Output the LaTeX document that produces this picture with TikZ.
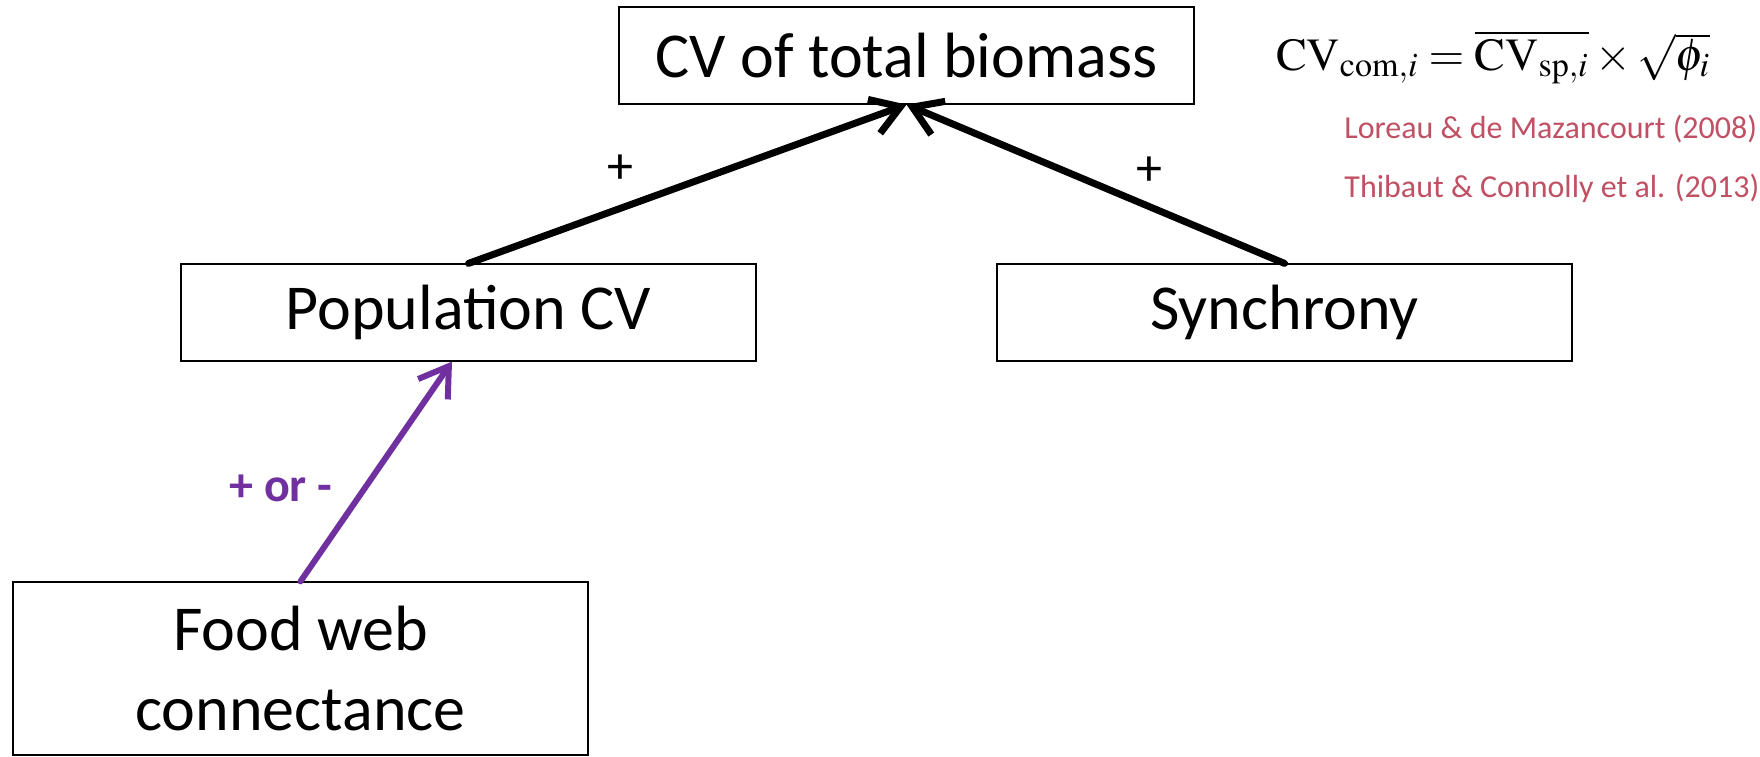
\documentclass[tikz,border=0pt]{standalone}
\usepackage{mathptmx}
\usepackage[no-math]{fontspec}
\setmainfont{Carlito}
\usetikzlibrary{arrows.meta}
\definecolor{linkpurple}{RGB}{112,48,160}
\definecolor{citered}{RGB}{192,80,100}

\begin{document}
\begin{tikzpicture}[x=0.5pt,y=-0.5pt,
        box/.style={draw,line width=0.6pt,inner sep=0pt,minimum width=287.5pt,minimum height=48.5pt,align=center,font=\fontsize{32}{40}\selectfont},
        link/.style={line width=3.5pt,line cap=round,-{Straight Barb[length=14pt,width=18pt]}},
        sign/.style={font=\fontsize{26}{30}\selectfont,inner sep=0pt},
        cite/.style={font=\fontsize{16}{19}\selectfont,text=citered,anchor=west,inner sep=0pt}]
        \useasboundingbox (0,0) rectangle (1760,756);
        % boxes
        \node[box] (total) at (906.5,55.5) {CV of total biomass};
        \node[box] (popcv) at (468.5,312.5) {Population CV};
        \node[box] (sync) at (1284.5,312.5) {Synchrony};
        \node[box,minimum height=86.5pt] (foodweb) at (300.5,668.5) {Food web\\connectance};
        % arrows
        \draw[link] (popcv.north) -- (total.south);
        \draw[link] (sync.north) -- (total.south);
        \draw[link,linkpurple,line width=3pt] (foodweb.north) -- ([xshift=-8.25pt]popcv.south);
        % signs
        \node[sign] (plusl) at (620,169) {+};
        \node[sign] (plusr) at (1149,171) {+};
        \node[sign,font=\bfseries\fontsize{24}{28}\selectfont,text=linkpurple] (plusminus) at (281,488) {+ or -};
        % formula and refs
        \node[anchor=base,font=\fontsize{23}{26}\selectfont,inner sep=0pt] (formula) at (1493,70)
            {$\mathrm{CV}_{\mathrm{com},i}=\overline{\mathrm{CV}_{\mathrm{sp},i}}\times\sqrt{\phi_i}$};
        \node[cite] (loreau) at (1344,129) {Loreau \& de Mazancourt (2008)};
        \node[cite] (thibaut) at (1344,188) {Thibaut \& Connolly et al. (2013)};
\end{tikzpicture}
\end{document}
